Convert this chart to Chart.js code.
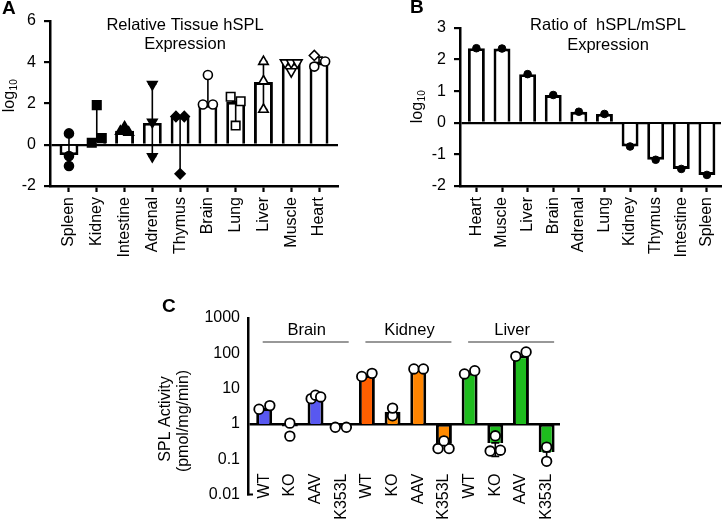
<!DOCTYPE html>
<html>
<head>
<meta charset="utf-8">
<script src="https://cdn.jsdelivr.net/npm/chart.js@4.4.0/dist/chart.umd.min.js"></script>
<style>
    html, body { margin: 0; padding: 0; background: #fff; }
    #wrap { position: relative; width: 726px; height: 519px; overflow: hidden; background: #fff; }
    canvas { position: absolute; }
</style>
</head>
<body>
<div id="wrap">
    <canvas id="chartA" width="360" height="260" style="left:0;top:0"></canvas>
    <canvas id="chartB" width="366" height="260" style="left:360px;top:0"></canvas>
    <canvas id="chartC" width="420" height="229" style="left:150px;top:290px"></canvas>
</div>
<script>
const FONT = "'Liberation Sans', Arial, Helvetica, sans-serif";
Chart.defaults.font.family = FONT;
Chart.defaults.font.size = 16;
Chart.defaults.color = '#000';

// ---- Panel A: relative tissue hSPL expression (log10)
const tissuesA = ['Spleen', 'Kidney', 'Intestine', 'Adrenal', 'Thymus', 'Brain', 'Lung', 'Liver', 'Muscle', 'Heart'];
const meanA = [-0.5, 0.22, 0.68, 1.06, 1.37, 1.93, 2.08, 3.04, 3.97, 3.98];
const pointsA = [
    [0.55, -0.55, -1.03],
    [0.1, 0.32, 1.92],
    [0.86, 0.65, 0.6],
    [2.93, 1.1, -0.57],
    [1.37, 1.37, -1.41],
    [1.95, 1.95, 3.38],
    [2.33, 2.11, 0.93],
    [4.03, 3.09, 1.71],
    [3.98, 3.98, 3.98, 3.55],
    [4.33, 3.79, 4.04]
];
const rangeA = [[-0.5, 0.55], [0.22, 1.92], [0.68, 0.86], [-0.57, 2.93], [-1.41, 1.37],
    [1.93, 3.38], [0.93, 2.08], [1.71, 4.03], null, [3.98, 4.25]];
const yTicksA = [-2, 0, 2, 4, 6];

// ---- Panel B: ratio of hSPL/mSPL expression (log10)
const tissuesB = ['Heart', 'Muscle', 'Liver', 'Brain', 'Adrenal', 'Lung', 'Kidney', 'Thymus', 'Intestine', 'Spleen'];
const ratioB = [2.36, 2.35, 1.54, 0.88, 0.35, 0.28, -0.75, -1.17, -1.46, -1.65];
const yTicksB = [-2, -1, 0, 1, 2, 3];

// ---- Panel C: SPL activity (pmol/mg/min)
const organsC = ['Brain', 'Kidney', 'Liver'];
const genotypesC = ['WT', 'KO', 'AAV', 'K353L'];
const labelsC = organsC.flatMap(() => genotypesC);
const activityC = [2.8, 0.84, 5.5, 0.8, 24, 2.2, 36, 0.28, 28, 0.29, 88, 0.16];
const pointsC = [
    [2.6, 3.3], [1.05, 0.45], [5.2, 6.5, 5.8], [0.8, 0.8],
    [22, 27], [1.7, 2.8], [36, 36], [0.2, 0.2, 0.33],
    [26, 32], [0.17, 0.46, 0.18], [82, 109], [0.22, 0.087]
];
const rangeC = [null, null, null, null, null, null, null, null, null, [0.12, 0.29], null, [0.1, 0.16]];
const yTicksC = [0.01, 0.1, 1, 10, 100, 1000];

// horizontal scatter of the dots (in category units) and marker styles
const jitterA = [
    [0, 0, 0], [-0.18, 0.18, 0], [0, -0.15, 0.15], [0, 0, 0], [-0.15, 0.15, 0],
    [-0.18, 0.18, 0], [-0.18, 0.18, 0], [0, 0, 0], [-0.22, 0, 0.22, 0], [-0.17, -0.17, 0.22]
];
const shapeA = [
    ['circle'], ['square'], ['tri'], ['triDown'], ['diamond'],
    ['circle'], ['square'], ['tri'], ['triDown'], ['diamond', 'circle', 'circle']
];
const filledA = [true, true, true, true, true, false, false, false, false, false];
const jitterC = [
    [-0.2, 0.22], [0, 0], [-0.17, 0, 0.2], [-0.23, 0.2],
    [-0.2, 0.2], [0, 0], [-0.17, 0.2], [-0.23, 0.2, 0],
    [-0.2, 0.2], [-0.2, 0, 0.2], [-0.2, 0.2], [0, 0]
];
const colorsC = ['#5858f0', '#5858f0', '#5858f0', '#5858f0',
    '#ff5f00', '#ff8a00', '#ff8400', '#ff8a00',
    '#1ebc1e', '#1ebc1e', '#1ebc1e', '#1ebc1e'];

const MARKS = {
    circle: { style: 'circle', rot: 0, r: 4.5 },
    square: { style: 'rect', rot: 0, r: 6 },
    tri: { style: 'triangle', rot: 0, r: 5.5 },
    triDown: { style: 'triangle', rot: 180, r: 5.5 },
    diamond: { style: 'rectRot', rot: 0, r: 5 }
};

// build flat point lists for the scatter datasets
const dotsA = [], dotStyleA = [], dotRotA = [], dotRadA = [], dotFillA = [];
pointsA.forEach((vals, i) => {
    vals.forEach((v, k) => {
        const shapes = shapeA[i];
        const m = MARKS[shapes[Math.min(k, shapes.length - 1)]];
        dotsA.push({ x: i + jitterA[i][k], y: v });
        dotStyleA.push(m.style);
        dotRotA.push(m.rot);
        dotRadA.push(m.r);
        dotFillA.push(filledA[i] ? '#000' : '#fff');
    });
});
const dotsC = [];
pointsC.forEach((vals, i) => vals.forEach((v, k) => dotsC.push({ x: i + jitterC[i][k], y: v })));

function drawRanges(chart, ranges, cap) {
    const ctx = chart.ctx, xs = chart.scales.x, ys = chart.scales.y;
    ctx.save();
    ctx.strokeStyle = '#000';
    ctx.lineWidth = 1.6;
    ranges.forEach((r, i) => {
        if (!r) return;
        const px = xs.getPixelForValue(i);
        const y0 = ys.getPixelForValue(r[0]);
        const y1 = ys.getPixelForValue(r[1]);
        ctx.beginPath();
        ctx.moveTo(px, y0); ctx.lineTo(px, y1);
        ctx.moveTo(px - cap, y0); ctx.lineTo(px + cap, y0);
        ctx.moveTo(px - cap, y1); ctx.lineTo(px + cap, y1);
        ctx.stroke();
    });
    ctx.restore();
}

function drawLogLabel(ctx, bx, cy) {
    // "log" with a subscript 10, reading bottom to top
    ctx.save();
    ctx.font = '16px ' + FONT;
    const w1 = ctx.measureText('log').width;
    ctx.font = '10px ' + FONT;
    const w2 = ctx.measureText('10').width;
    ctx.translate(bx, cy);
    ctx.rotate(-Math.PI / 2);
    ctx.fillStyle = '#000';
    ctx.textAlign = 'left';
    ctx.textBaseline = 'alphabetic';
    const x0 = -(w1 + w2) / 2;
    ctx.font = '16px ' + FONT;
    ctx.fillText('log', x0, 0);
    ctx.font = '10px ' + FONT;
    ctx.fillText('10', x0 + w1 + 0.5, 3);
    ctx.restore();
}

function drawText(ctx, text, x, y, font, align) {
    ctx.save();
    ctx.font = font;
    ctx.fillStyle = '#000';
    ctx.textAlign = align || 'center';
    ctx.textBaseline = 'middle';
    ctx.fillText(text, x, y);
    ctx.restore();
}

function baseOptions(padding) {
    return {
        responsive: false,
        animation: false,
        events: [],
        layout: { padding: padding },
        plugins: { legend: { display: false }, tooltip: { enabled: false }, title: { display: false } }
    };
}

function linearY(min, max, ticks, width, zero) {
    return {
        min: min, max: max,
        afterBuildTicks: s => { s.ticks = ticks.map(v => ({ value: v })); },
        afterFit: s => { s.width = width; s.paddingTop = 0; s.paddingBottom = 0; },
        ticks: { padding: 8, font: { size: 16 } },
        grid: {
            color: c => (c.tick && c.tick.value === zero ? '#000' : 'rgba(0,0,0,0)'),
            lineWidth: 2.2, drawTicks: true, tickLength: 6, tickColor: '#000', tickWidth: 2.2
        },
        border: { display: true, color: '#000', width: 2.5 }
    };
}

function categoryX(min, max, labels, height) {
    return {
        type: 'linear', min: min, max: max, offset: false, bounds: 'data',
        afterBuildTicks: s => { s.ticks = labels.map((_, i) => ({ value: i })); },
        afterFit: s => { s.height = height; s.paddingLeft = 0; s.paddingRight = 0; },
        ticks: { autoSkip: false, minRotation: 90, maxRotation: 90, padding: 5, font: { size: 16 }, callback: v => labels[v] },
        grid: { display: true, offset: false, drawOnChartArea: false, drawTicks: true, tickLength: 6, tickColor: '#000', tickWidth: 2.2 },
        border: { display: true, color: '#000', width: 2.5 }
    };
}

// ---- Chart A
const optsA = baseOptions({ top: 21, right: 22, bottom: 0, left: 0 });
optsA.scales = { x: categoryX(-0.683, 9.683, tissuesA, 74), y: linearY(-2, 6, yTicksA, 50, 0) };
new Chart(document.getElementById('chartA'), {
    type: 'bar',
    data: {
        datasets: [
            {
                type: 'scatter', order: 0, data: dotsA,
                pointStyle: dotStyleA, pointRotation: dotRotA, pointRadius: dotRadA,
                pointBackgroundColor: dotFillA, pointBorderColor: '#000', pointBorderWidth: 1.6
            },
            {
                type: 'bar', order: 1,
                data: meanA.map((v, i) => ({ x: i, y: v })),
                backgroundColor: '#fff', borderColor: '#000', borderWidth: 2.9,
                categoryPercentage: 1, barPercentage: 0.68
            }
        ]
    },
    options: optsA,
    plugins: [{
        id: 'decorA',
        afterDatasetDraw(chart, args) {
            if (args.meta.type === 'bar') drawRanges(chart, rangeA, 4);
        },
        afterDraw(chart) {
            const ctx = chart.ctx;
            drawText(ctx, 'Relative Tissue hSPL', 185, 25, '16.5px ' + FONT);
            drawText(ctx, 'Expression', 185, 44, '16.5px ' + FONT);
            drawLogLabel(ctx, 14, 96);
            drawText(ctx, 'A', 2, 9, 'bold 19px ' + FONT, 'left');
        }
    }]
});

// ---- Chart B
const optsB = baseOptions({ top: 28, right: 4, bottom: 0, left: 0 });
optsB.scales = { x: categoryX(-0.64, 9.55, tissuesB, 74), y: linearY(-2, 3, yTicksB, 100, 0) };
new Chart(document.getElementById('chartB'), {
    type: 'bar',
    data: {
        datasets: [
            {
                type: 'scatter', order: 0,
                data: ratioB.map((v, i) => ({ x: i, y: v })),
                pointStyle: 'circle', pointRadius: 3.8,
                pointBackgroundColor: '#000', pointBorderColor: '#000', pointBorderWidth: 1
            },
            {
                type: 'bar', order: 1,
                data: ratioB.map((v, i) => ({ x: i, y: v })),
                backgroundColor: '#fff', borderColor: '#000', borderWidth: 2.9,
                categoryPercentage: 1, barPercentage: 0.66
            }
        ]
    },
    options: optsB,
    plugins: [{
        id: 'decorB',
        afterDraw(chart) {
            const ctx = chart.ctx;
            drawText(ctx, 'Ratio of  hSPL/mSPL', 248, 25, '16.5px ' + FONT);
            drawText(ctx, 'Expression', 248, 45, '16.5px ' + FONT);
            drawLogLabel(ctx, 62, 107);
            drawText(ctx, 'B', 50, 8, 'bold 19px ' + FONT, 'left');
        }
    }]
});

// ---- Chart C
const optsC = baseOptions({ top: 28, right: 10, bottom: 24.5, left: 0 });
optsC.scales = {
    x: {
        type: 'linear', min: -0.63, max: 11.52, offset: false, bounds: 'data',
        afterBuildTicks: s => { s.ticks = labelsC.map((_, i) => ({ value: i })); },
        afterFit: s => { s.height = 0; s.paddingLeft = 0; s.paddingRight = 0; },
        ticks: { display: false },
        grid: { display: false },
        border: { display: false }
    },
    y: {
        type: 'logarithmic', min: 0.01, max: 1000,
        afterBuildTicks: s => { s.ticks = yTicksC.map(v => ({ value: v })); },
        afterFit: s => { s.width = 98; s.paddingTop = 0; s.paddingBottom = 0; },
        ticks: { padding: 8, font: { size: 16 }, callback: v => String(v) },
        grid: {
            color: c => (c.tick && c.tick.value === 1 ? '#000' : 'rgba(0,0,0,0)'),
            lineWidth: 2.4, drawTicks: false
        },
        border: { display: true, color: '#000', width: 2.5 }
    }
};
new Chart(document.getElementById('chartC'), {
    type: 'bar',
    data: {
        datasets: [
            {
                type: 'scatter', order: 0, data: dotsC,
                pointStyle: 'circle', pointRadius: 4.8,
                pointBackgroundColor: '#fff', pointBorderColor: '#000', pointBorderWidth: 1.8
            },
            {
                type: 'bar', order: 1,
                data: activityC.map((v, i) => ({ x: i, y: [1, v] })),
                backgroundColor: colorsC, borderColor: '#000', borderWidth: 2.9,
                categoryPercentage: 1, barPercentage: 0.62
            }
        ]
    },
    options: optsC,
    plugins: [{
        id: 'decorC',
        afterDatasetDraw(chart, args) {
            if (args.meta.type === 'bar') drawRanges(chart, rangeC, 4);
        },
        afterDraw(chart) {
            const ctx = chart.ctx, xs = chart.scales.x, ys = chart.scales.y;
            const area = chart.chartArea;
            // rotated genotype labels
            ctx.save();
            ctx.font = '16px ' + FONT;
            ctx.fillStyle = '#000';
            labelsC.forEach((lab, i) => {
                ctx.save();
                ctx.translate(xs.getPixelForValue(i), area.bottom - 21);
                ctx.rotate(-Math.PI / 2);
                ctx.textAlign = 'right';
                ctx.textBaseline = 'middle';
                ctx.fillText(lab, 0, 0);
                ctx.restore();
            });
            ctx.restore();
            // organ group labels with lines
            organsC.forEach((name, g) => {
                const first = g * genotypesC.length;
                const last = first + genotypesC.length - 1;
                const mid = (xs.getPixelForValue(first) + xs.getPixelForValue(last)) / 2;
                drawText(ctx, name, mid + 4, area.top + 12, '16.5px ' + FONT);
                ctx.save();
                ctx.strokeStyle = '#333';
                ctx.lineWidth = 1.2;
                ctx.beginPath();
                ctx.moveTo(mid - 40, area.top + 24);
                ctx.lineTo(mid + 46, area.top + 24);
                ctx.stroke();
                ctx.restore();
            });
            // small foot tick at the bottom of the axis
            ctx.save();
            ctx.strokeStyle = '#000';
            ctx.lineWidth = 2;
            ctx.beginPath();
            const yb = ys.getPixelForValue(yTicksC[0]);
            ctx.moveTo(area.left - 1, yb);
            ctx.lineTo(area.left + 5, yb);
            ctx.stroke();
            ctx.restore();
            // axis title
            ctx.save();
            ctx.translate(16, 129);
            ctx.rotate(-Math.PI / 2);
            drawText(ctx, 'SPL Activity', 0, 0, '16px ' + FONT);
            ctx.restore();
            ctx.save();
            ctx.translate(34, 131);
            ctx.rotate(-Math.PI / 2);
            drawText(ctx, '(pmol/mg/min)', 0, 0, '16px ' + FONT);
            ctx.restore();
            drawText(ctx, 'C', 12, 17, 'bold 19px ' + FONT, 'left');
        }
    }]
});
</script>
</body>
</html>
